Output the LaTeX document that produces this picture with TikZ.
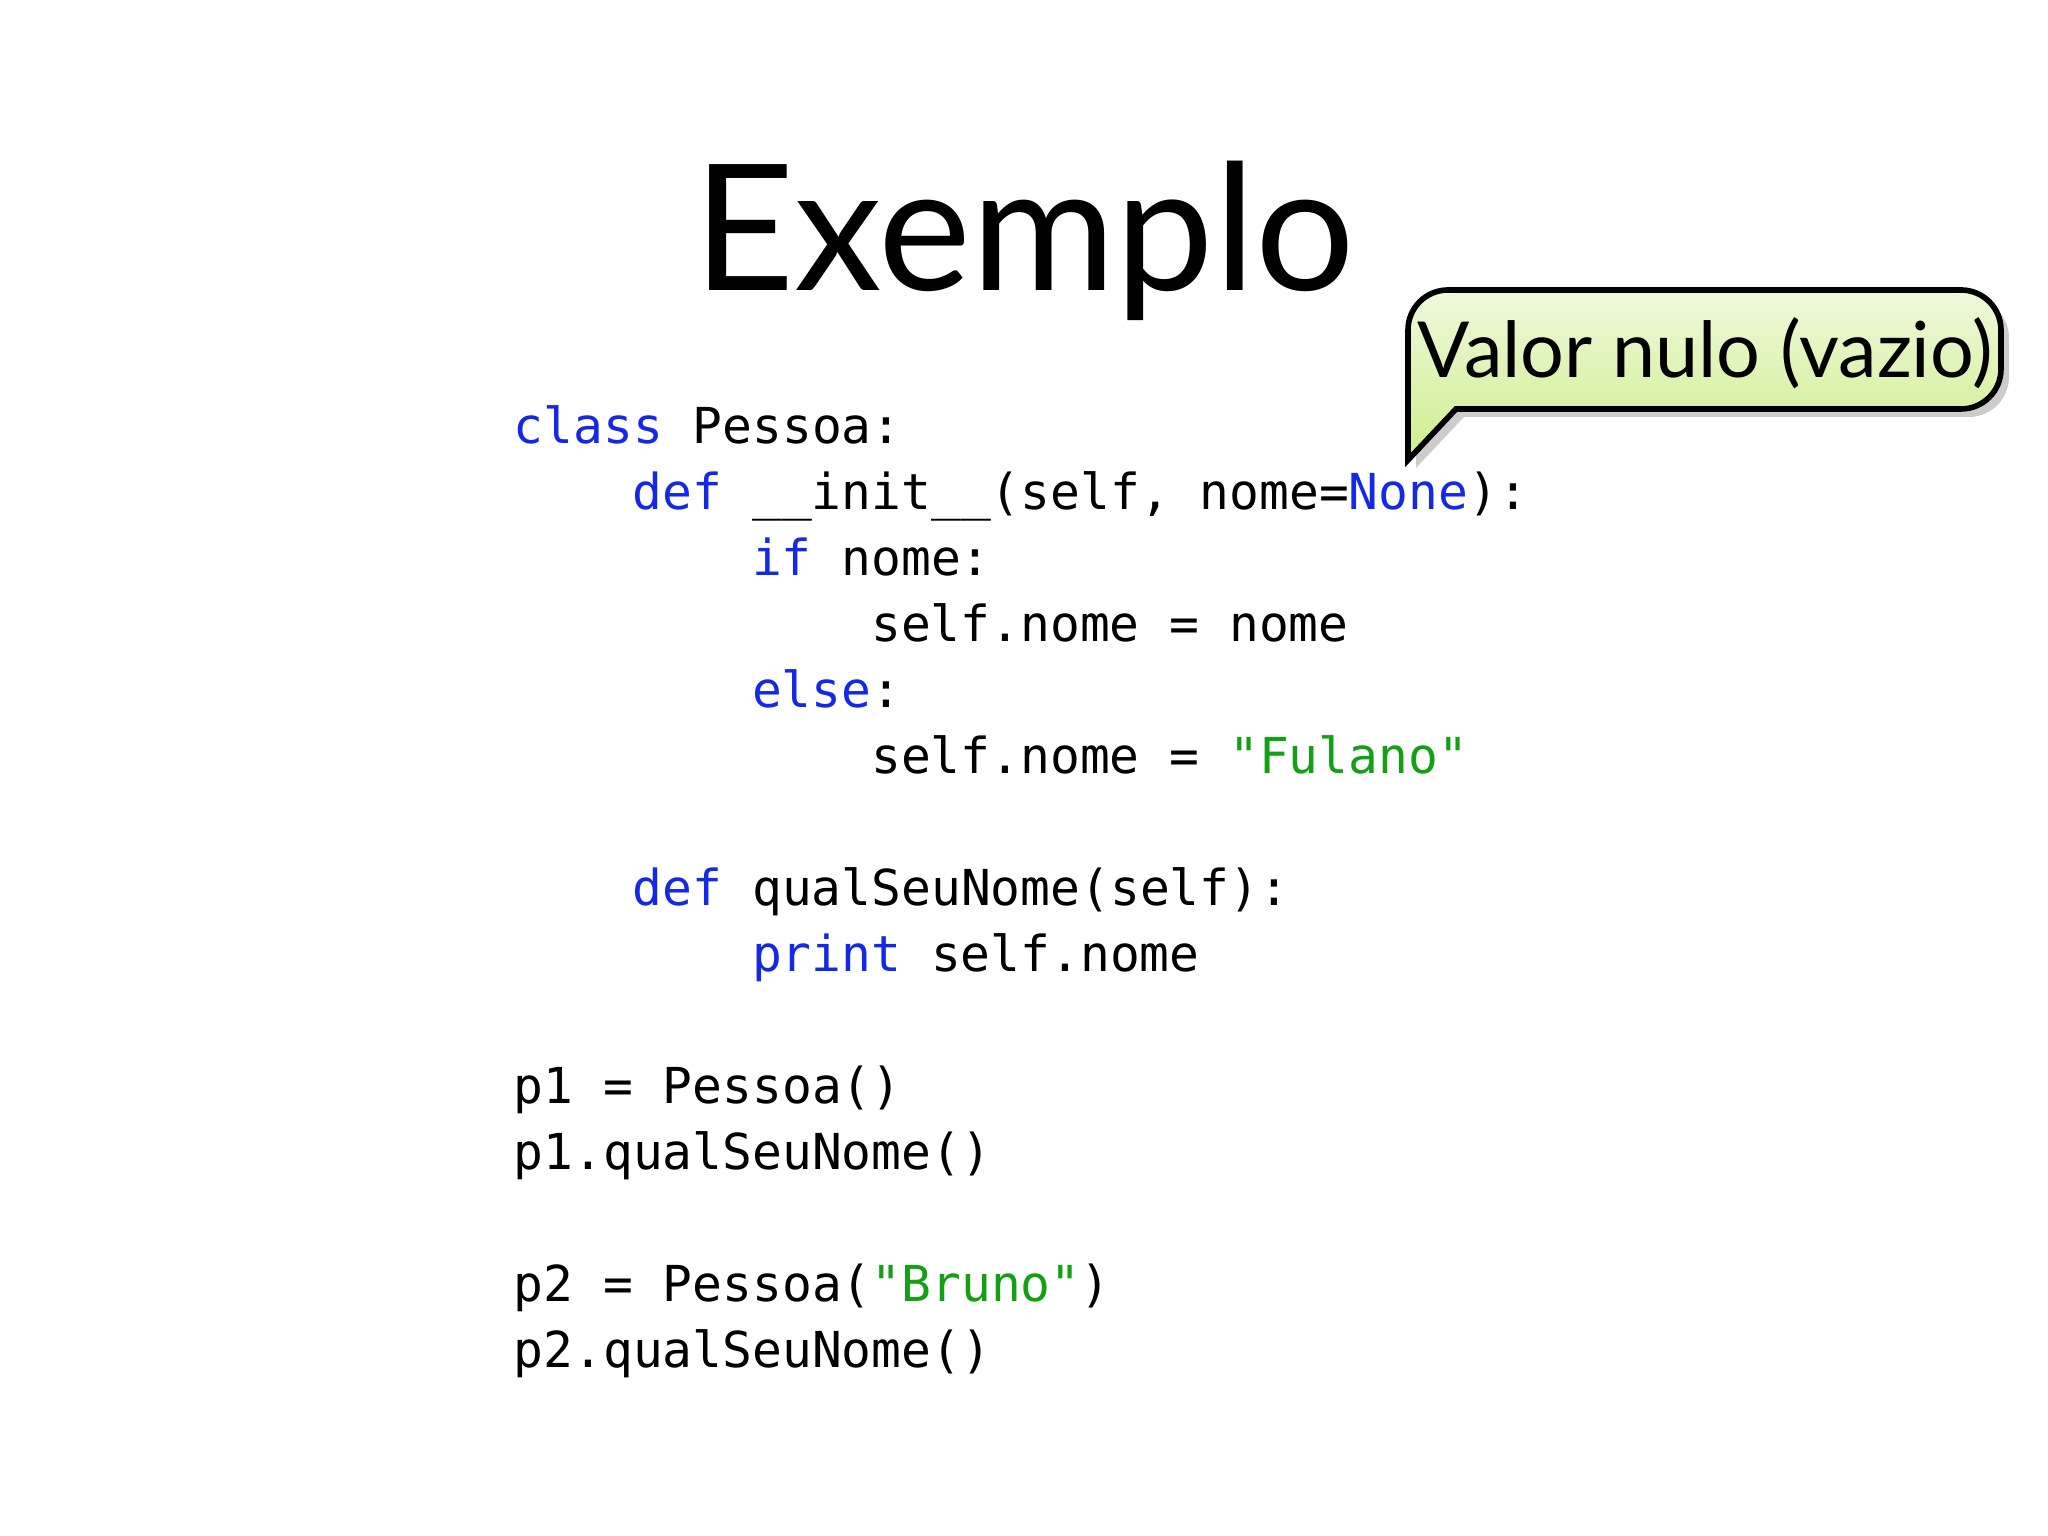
\documentclass[tikz,border=0pt]{standalone}
\usepackage{fontspec}
\setmainfont{Lato}
\newfontfamily\codefont{DejaVu Sans Mono}
\usetikzlibrary{shadows}
\definecolor{kw}{RGB}{20,40,230}
\definecolor{st}{RGB}{20,160,20}
\definecolor{calltop}{RGB}{240,248,220}
\definecolor{callbot}{RGB}{205,238,140}
\begin{document}
\begin{tikzpicture}[x=1cm,y=1cm,
  code/.style={anchor=base west,inner sep=0pt,font=\codefont\fontsize{14.1pt}{14.1pt}\selectfont}]
\useasboundingbox (0,0) rectangle (20.48,15.36);
\node[font=\fontsize{50pt}{50pt}\selectfont] (title) at (10.24,12.95) {Exemplo};
\def\cx#1{5.13+#1*0.298}
\def\cy#1{10.92-#1*0.66}
\node[code] (l1) at ({\cx0},{\cy0}) {\textcolor{kw}{class} Pessoa:};
\node[code] (l2) at ({\cx4},{\cy1}) {\textcolor{kw}{def} \_\_init\_\_(self, nome=\textcolor{kw}{None}):};
\node[code] (l3) at ({\cx8},{\cy2}) {\textcolor{kw}{if} nome:};
\node[code] (l4) at ({\cx{12}},{\cy3}) {self.nome = nome};
\node[code] (l5) at ({\cx8},{\cy4}) {\textcolor{kw}{else}:};
\node[code] (l6) at ({\cx{12}},{\cy5}) {self.nome = \textcolor{st}{"Fulano"}};
\node[code] (l7) at ({\cx4},{\cy7}) {\textcolor{kw}{def} qualSeuNome(self):};
\node[code] (l8) at ({\cx8},{\cy8}) {\textcolor{kw}{print} self.nome};
\node[code] (l9) at ({\cx0},{\cy{10}}) {p1 = Pessoa()};
\node[code] (l10) at ({\cx0},{\cy{11}}) {p1.qualSeuNome()};
\node[code] (l11) at ({\cx0},{\cy{13}}) {p2 = Pessoa(\textcolor{st}{"Bruno"})};
\node[code] (l12) at ({\cx0},{\cy{14}}) {p2.qualSeuNome()};
\draw[line width=1.6pt,top color=calltop,bottom color=callbot,
  drop shadow={shadow xshift=0.08cm,shadow yshift=-0.08cm,opacity=0.4}]
  (14.56,11.27) [rounded corners=0.4cm] -- (20.01,11.27) -- (20.01,12.46) -- (14.08,12.46) -- (14.08,11.6) [sharp corners] -- (14.08,10.76) -- cycle;
\node[font=\fontsize{22pt}{22pt}\selectfont] (callout) at (17.05,11.83) {Valor nulo (vazio)};
\end{tikzpicture}
\end{document}
